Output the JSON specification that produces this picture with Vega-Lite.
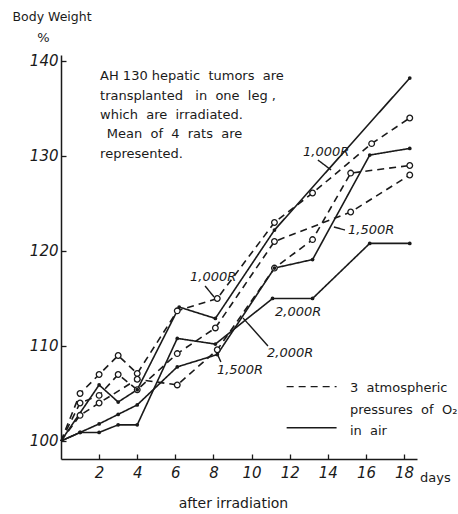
{
  "$schema": "https://vega.github.io/schema/vega-lite/v6.json",
  "width": 356,
  "height": 404,
  "autosize": {"type": "none"},
  "padding": {"left": 61, "top": 55, "right": 41, "bottom": 55},
  "background": "white",
  "config": {"view": {"stroke": null}, "font": "DejaVu Sans"},
  "datasets": {
    "series": [
      {"series": "1,000R O2", "cond": "O2", "day": 0, "w": 100},
      {"series": "1,000R O2", "cond": "O2", "day": 1, "w": 105},
      {"series": "1,000R O2", "cond": "O2", "day": 2, "w": 107},
      {"series": "1,000R O2", "cond": "O2", "day": 3, "w": 109},
      {"series": "1,000R O2", "cond": "O2", "day": 4, "w": 107.1},
      {"series": "1,000R O2", "cond": "O2", "day": 6.1, "w": 113.7},
      {"series": "1,000R O2", "cond": "O2", "day": 8.2, "w": 115},
      {"series": "1,000R O2", "cond": "O2", "day": 11.2, "w": 123},
      {"series": "1,000R O2", "cond": "O2", "day": 13.2, "w": 126.1},
      {"series": "1,000R O2", "cond": "O2", "day": 16.3, "w": 131.3},
      {"series": "1,000R O2", "cond": "O2", "day": 18.3, "w": 134},
      {"series": "2,000R O2", "cond": "O2", "day": 0, "w": 100},
      {"series": "2,000R O2", "cond": "O2", "day": 1, "w": 104},
      {"series": "2,000R O2", "cond": "O2", "day": 2, "w": 104.8},
      {"series": "2,000R O2", "cond": "O2", "day": 3, "w": 107},
      {"series": "2,000R O2", "cond": "O2", "day": 4, "w": 105.4},
      {"series": "2,000R O2", "cond": "O2", "day": 6.1, "w": 109.2},
      {"series": "2,000R O2", "cond": "O2", "day": 8.1, "w": 111.9},
      {"series": "2,000R O2", "cond": "O2", "day": 11.2, "w": 121},
      {"series": "2,000R O2", "cond": "O2", "day": 15.2, "w": 124.1},
      {"series": "2,000R O2", "cond": "O2", "day": 18.3, "w": 128},
      {"series": "1,500R O2", "cond": "O2", "day": 0, "w": 100},
      {"series": "1,500R O2", "cond": "O2", "day": 1, "w": 102.7},
      {"series": "1,500R O2", "cond": "O2", "day": 2, "w": 104},
      {"series": "1,500R O2", "cond": "O2", "day": 4, "w": 106.5},
      {"series": "1,500R O2", "cond": "O2", "day": 6.1, "w": 105.9},
      {"series": "1,500R O2", "cond": "O2", "day": 8.2, "w": 109.6},
      {"series": "1,500R O2", "cond": "O2", "day": 11.2, "w": 118.2},
      {"series": "1,500R O2", "cond": "O2", "day": 13.2, "w": 121.2},
      {"series": "1,500R O2", "cond": "O2", "day": 15.2, "w": 128.2},
      {"series": "1,500R O2", "cond": "O2", "day": 18.3, "w": 129},
      {"series": "1,000R air", "cond": "air", "day": 0, "w": 100},
      {"series": "1,000R air", "cond": "air", "day": 2, "w": 105.9},
      {"series": "1,000R air", "cond": "air", "day": 3, "w": 104.1},
      {"series": "1,000R air", "cond": "air", "day": 4, "w": 105.4},
      {"series": "1,000R air", "cond": "air", "day": 6.2, "w": 114.1},
      {"series": "1,000R air", "cond": "air", "day": 8.1, "w": 112.9},
      {"series": "1,000R air", "cond": "air", "day": 11.2, "w": 122.2},
      {"series": "1,000R air", "cond": "air", "day": 18.3, "w": 138.2},
      {"series": "1,500R air", "cond": "air", "day": 0, "w": 100},
      {"series": "1,500R air", "cond": "air", "day": 1, "w": 100.9},
      {"series": "1,500R air", "cond": "air", "day": 2, "w": 101.8},
      {"series": "1,500R air", "cond": "air", "day": 3, "w": 102.8},
      {"series": "1,500R air", "cond": "air", "day": 4, "w": 103.8},
      {"series": "1,500R air", "cond": "air", "day": 6.1, "w": 107.8},
      {"series": "1,500R air", "cond": "air", "day": 8.2, "w": 109.1},
      {"series": "1,500R air", "cond": "air", "day": 11.2, "w": 118.2},
      {"series": "1,500R air", "cond": "air", "day": 13.2, "w": 119.1},
      {"series": "1,500R air", "cond": "air", "day": 16.2, "w": 130.1},
      {"series": "1,500R air", "cond": "air", "day": 18.3, "w": 130.8},
      {"series": "2,000R air", "cond": "air", "day": 0, "w": 100},
      {"series": "2,000R air", "cond": "air", "day": 1, "w": 100.9},
      {"series": "2,000R air", "cond": "air", "day": 2, "w": 100.9},
      {"series": "2,000R air", "cond": "air", "day": 3, "w": 101.7},
      {"series": "2,000R air", "cond": "air", "day": 4, "w": 101.7},
      {"series": "2,000R air", "cond": "air", "day": 6.1, "w": 110.8},
      {"series": "2,000R air", "cond": "air", "day": 8.1, "w": 110.2},
      {"series": "2,000R air", "cond": "air", "day": 11.1, "w": 115},
      {"series": "2,000R air", "cond": "air", "day": 13.2, "w": 115},
      {"series": "2,000R air", "cond": "air", "day": 16.2, "w": 120.8},
      {"series": "2,000R air", "cond": "air", "day": 18.3, "w": 120.8}
    ],
    "doses": [
      {"t": "1,000R", "day": 12.7, "w": 130.42},
      {"t": "1,000R", "day": 6.77, "w": 117.26},
      {"t": "1,500R", "day": 15.06, "w": 122.21},
      {"t": "1,500R", "day": 8.18, "w": 107.47},
      {"t": "2,000R", "day": 11.23, "w": 113.58},
      {"t": "2,000R", "day": 10.81, "w": 109.26}
    ],
    "leaders": [
      {"day": 13.48, "w": 129.58, "day2": 14.17, "w2": 128.53, "cond": "air"},
      {"day": 7.56, "w": 116.32, "day2": 8.03, "w2": 115.16, "cond": "air"},
      {"day": 14.32, "w": 122.53, "day2": 14.9, "w2": 122.21, "cond": "air"},
      {"day": 8.39, "w": 108.32, "day2": 8.13, "w2": 109.47, "cond": "air"},
      {"day": 10.86, "w": 110, "day2": 9.55, "w2": 112.95, "cond": "air"},
      {"day": 11.84, "w": 105.72, "day2": 14.46, "w2": 105.72, "cond": "O2"},
      {"day": 11.84, "w": 101.4, "day2": 14.46, "w2": 101.4, "cond": "air"}
    ],
    "notes": [
      {"t": "AH 130 hepatic\u00a0 tumors\u00a0 are", "day": 2.05, "w": 138.42},
      {"t": "transplanted\u00a0\u00a0 in\u00a0 one\u00a0 leg ,", "day": 2.05, "w": 136.32},
      {"t": "which\u00a0 are\u00a0 irradiated.", "day": 2.05, "w": 134.32},
      {"t": "Mean\u00a0 of\u00a0 4\u00a0 rats\u00a0 are", "day": 2.4, "w": 132.32},
      {"t": "represented.", "day": 2.05, "w": 130.21},
      {"t": "3\u00a0 atmospheric", "day": 15.16, "w": 105.58},
      {"t": "pressures\u00a0 of\u00a0 O₂", "day": 15.16, "w": 103.26},
      {"t": "in\u00a0 air", "day": 15.16, "w": 101.05},
      {"t": "days", "day": 18.84, "w": 96.1},
      {"t": "%", "day": -1.25, "w": 142.42}
    ]
  },
  "layer": [
    {
      "data": {"name": "series"},
      "mark": {"type": "line", "color": "#1a1a1a", "strokeWidth": 1.6},
      "encoding": {
        "x": {
          "field": "day", "type": "quantitative",
          "scale": {"domain": [0, 18.68], "nice": false, "zero": false},
          "axis": {
            "orient": "bottom",
            "values": [2, 4, 6, 8, 10, 12, 14, 16, 18],
            "title": "after irradiation",
            "titleFontSize": 14, "titleFontWeight": "normal", "titleColor": "#1a1a1a",
            "titleX": 172, "titleY": 44, "titleBaseline": "middle", "titleAnchor": "start", "titleAlign": "center",
            "labelFontSize": 15, "labelFontStyle": "italic", "labelColor": "#1a1a1a", "labelPadding": 6,
            "ticks": false, "domainColor": "#1a1a1a", "domainWidth": 1.5,
            "grid": false, "labelFlush": false
          }
        },
        "y": {
          "field": "w", "type": "quantitative",
          "scale": {"domain": [98.105, 140.63], "nice": false, "zero": false},
          "axis": {
            "orient": "left",
            "values": [100, 110, 120, 130, 140],
            "title": "Body Weight",
            "titleAngle": 0, "titleAlign": "left", "titleBaseline": "middle",
            "titleX": -49, "titleY": -39,
            "titleFontSize": 12.5, "titleFontWeight": "normal", "titleColor": "#1a1a1a",
            "labelFontSize": 15, "labelFontStyle": "italic", "labelColor": "#1a1a1a", "labelPadding": 3,
            "ticks": false, "domainColor": "#1a1a1a", "domainWidth": 1.5,
            "grid": false, "labelFlush": false
          }
        },
        "detail": {"field": "series"},
        "strokeDash": {
          "field": "cond", "type": "nominal",
          "scale": {"domain": ["O2", "air"], "range": [[7, 5], [1, 0]]},
          "legend": null
        }
      }
    },
    {
      "data": {"name": "leaders"},
      "mark": {"type": "rule", "color": "#1a1a1a", "strokeWidth": 1.4},
      "encoding": {
        "x": {
          "field": "day", "type": "quantitative",
          "axis": {"orient": "top", "offset": -404, "values": [2, 4, 6, 8, 10, 12, 14, 16, 18], "labels": false, "domain": false, "title": null, "grid": false, "tickSize": 5, "tickColor": "#1a1a1a", "tickWidth": 1.3}
        },
        "y": {
          "field": "w", "type": "quantitative",
          "axis": {"orient": "right", "offset": -356, "values": [100, 110, 120, 130, 140], "labels": false, "domain": false, "title": null, "grid": false, "tickSize": 5, "tickColor": "#1a1a1a", "tickWidth": 1.3}
        },
        "x2": {"field": "day2"},
        "y2": {"field": "w2"},
        "strokeDash": {"field": "cond", "type": "nominal", "legend": null}
      }
    },
    {
      "data": {"name": "series"},
      "transform": [{"filter": "datum.cond == 'O2' && datum.day > 0"}],
      "mark": {"type": "point", "shape": "circle", "filled": true, "fill": "white", "stroke": "#1a1a1a", "strokeWidth": 1.3, "size": 32, "opacity": 1},
      "encoding": {
        "x": {"field": "day", "type": "quantitative", "axis": null},
        "y": {"field": "w", "type": "quantitative", "axis": null}
      }
    },
    {
      "data": {"name": "series"},
      "transform": [{"filter": "datum.cond == 'air' && datum.day > 0"}],
      "mark": {"type": "point", "shape": "circle", "filled": true, "color": "#1a1a1a", "size": 14, "opacity": 1},
      "encoding": {
        "x": {"field": "day", "type": "quantitative", "axis": null},
        "y": {"field": "w", "type": "quantitative", "axis": null}
      }
    },
    {
      "data": {"name": "doses"},
      "mark": {"type": "text", "align": "left", "baseline": "middle", "fontSize": 13, "fontStyle": "italic", "color": "#1a1a1a"},
      "encoding": {
        "x": {"field": "day", "type": "quantitative", "axis": null},
        "y": {"field": "w", "type": "quantitative", "axis": null},
        "text": {"field": "t"}
      }
    },
    {
      "data": {"name": "notes"},
      "mark": {"type": "text", "align": "left", "baseline": "middle", "fontSize": 13, "color": "#1a1a1a"},
      "encoding": {
        "x": {"field": "day", "type": "quantitative", "axis": null},
        "y": {"field": "w", "type": "quantitative", "axis": null},
        "text": {"field": "t"}
      }
    }
  ]
}
